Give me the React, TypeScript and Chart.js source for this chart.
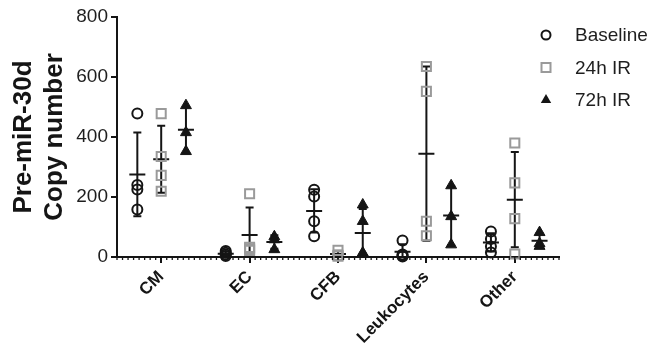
import React, { useEffect, useRef } from 'react';
import { Chart, registerables } from 'chart.js';

Chart.register(...registerables);

// ---- Data ----
const categories = ['CM', 'EC', 'CFB', 'Leukocytes', 'Other'];
const seriesNames = ['Baseline', '24h IR', '72h IR'];
const baselineValues = [
  [478, 240, 225, 158],
  [20, 14, 8, 3],
  [224, 202, 119, 69],
  [55, 8, 4, 2],
  [85, 60, 35, 15],
];
const ir24Values = [
  [478, 335, 272, 219],
  [211, 32, 27, 22],
  [22, 6, 3],
  [635, 552, 119, 71],
  [380, 247, 128, 10],
];
const ir72Values = [
  [505, 415, 352],
  [68, 58, 25],
  [174, 119, 14, 12],
  [238, 135, 41],
  [82, 45, 36],
];
const yTicks = [0, 200, 400, 600, 800];
const yTitle = ['Pre-miR-30d', 'Copy number'];

// ---- Styles ----
const FONT = '"Liberation Sans", Arial, Helvetica, sans-serif';
const INK = '#151515';
const GRAY = '#9a9a9a';
const groupOffsets = [-0.27, 0, 0.28];
const allSeries = [baselineValues, ir24Values, ir72Values];

const pointStyles = [
  { pointStyle: 'circle', radius: 5, borderWidth: 2, borderColor: INK, backgroundColor: 'rgba(0,0,0,0)' },
  { pointStyle: 'rect', radius: 6.4, borderWidth: 2, borderColor: GRAY, backgroundColor: 'rgba(0,0,0,0)' },
  { pointStyle: 'triangle', radius: 6.3, borderWidth: 1, borderColor: INK, backgroundColor: INK },
];

function mean(a: number[]) {
  return a.reduce((s, v) => s + v, 0) / a.length;
}
function sd(a: number[]) {
  const m = mean(a);
  return Math.sqrt(a.reduce((s, v) => s + (v - m) * (v - m), 0) / (a.length - 1));
}

const errorBarPlugin = {
  id: 'errorBars',
  beforeDatasetsDraw(chart: any) {
    const { ctx, scales } = chart;
    const xs = scales.x;
    const ys = scales.y;
    const yMin = ys.min;
    ctx.save();
    ctx.strokeStyle = INK;
    ctx.lineWidth = 2;
    ctx.lineCap = 'butt';
    allSeries.forEach((series, si) => {
      series.forEach((vals, ci) => {
        const m = mean(vals);
        const s = sd(vals);
        const px = xs.getPixelForValue(ci + groupOffsets[si]);
        const hiV = m + s;
        const loV = Math.max(yMin, m - s);
        const top = ys.getPixelForValue(hiV);
        const bot = ys.getPixelForValue(loV);
        const mid = ys.getPixelForValue(m);
        ctx.beginPath();
        ctx.moveTo(px, top);
        ctx.lineTo(px, bot);
        ctx.moveTo(px - 4, top);
        ctx.lineTo(px + 4, top);
        if (m - s > yMin) {
          ctx.moveTo(px - 4, bot);
          ctx.lineTo(px + 4, bot);
        }
        ctx.moveTo(px - 8, mid);
        ctx.lineTo(px + 8, mid);
        ctx.stroke();
      });
    });
    ctx.restore();
  },
};

const minorTickPlugin = {
  id: 'minorTicks',
  afterDraw(chart: any) {
    const { ctx, scales } = chart;
    const xs = scales.x;
    const ys = scales.y;
    const y0 = ys.getPixelForValue(0);
    ctx.save();
    ctx.strokeStyle = INK;
    ctx.lineWidth = 1.3;
    for (let v = xs.min; v <= xs.max + 1e-9; v += 1 / 16) {
      const px = xs.getPixelForValue(v);
      ctx.beginPath();
      ctx.moveTo(px, y0 - 1);
      ctx.lineTo(px, y0 + 3);
      ctx.stroke();
    }
    ctx.restore();
  },
};

const legendPlugin = {
  id: 'customLegend',
  afterDraw(chart: any) {
    const { ctx, chartArea } = chart;
    const mx = chartArea.right - 13;
    const tx = mx + 29;
    ctx.save();
    seriesNames.forEach((name, i) => {
      const my = chartArea.top + 18 + i * 32.5;
      const st = pointStyles[i];
      ctx.beginPath();
      if (i === 0) {
        ctx.arc(mx, my, 4.5, 0, Math.PI * 2);
        ctx.lineWidth = 2;
        ctx.strokeStyle = INK;
        ctx.stroke();
      } else if (i === 1) {
        ctx.rect(mx - 4.5, my - 4.5, 9, 9);
        ctx.lineWidth = 2;
        ctx.strokeStyle = GRAY;
        ctx.stroke();
      } else {
        const r = 6;
        ctx.moveTo(mx, my - r);
        ctx.lineTo(mx + r * 0.866, my + r * 0.5);
        ctx.lineTo(mx - r * 0.866, my + r * 0.5);
        ctx.closePath();
        ctx.fillStyle = st.backgroundColor;
        ctx.fill();
      }
      ctx.fillStyle = '#1e1e1e';
      ctx.font = `19px ${FONT}`;
      ctx.textAlign = 'left';
      ctx.textBaseline = 'middle';
      ctx.fillText(name, tx, my + 1);
    });
    ctx.restore();
  },
};

export default function App() {
  const canvasRef = useRef<HTMLCanvasElement | null>(null);

  useEffect(() => {
    if (!canvasRef.current) return;
    const datasets = allSeries.map((series, si) => ({
      label: seriesNames[si],
      data: series.flatMap((vals, ci) => vals.map((v) => ({ x: ci + groupOffsets[si], y: v }))),
      showLine: false,
      clip: false as any,
      pointStyle: pointStyles[si].pointStyle as any,
      pointRadius: pointStyles[si].radius,
      pointBorderWidth: pointStyles[si].borderWidth,
      pointBorderColor: pointStyles[si].borderColor,
      pointBackgroundColor: pointStyles[si].backgroundColor,
      pointHoverRadius: pointStyles[si].radius,
      borderColor: pointStyles[si].borderColor,
      backgroundColor: pointStyles[si].backgroundColor,
    }));

    const chart = new Chart(canvasRef.current, {
      type: 'scatter',
      data: { datasets },
      plugins: [errorBarPlugin, minorTickPlugin, legendPlugin],
      options: {
        animation: false,
        responsive: true,
        maintainAspectRatio: false,
        layout: { padding: { left: 0, right: 94, top: 17, bottom: 0 } },
        plugins: { legend: { display: false }, tooltip: { enabled: false } },
        scales: {
          x: {
            type: 'linear',
            min: -0.5,
            max: 4.5,
            afterBuildTicks: (scale: any) => {
              scale.ticks = categories.map((_, i) => ({ value: i }));
            },
            afterFit: (scale: any) => {
              scale.height = 97;
            },
            ticks: {
              autoSkip: false,
              maxRotation: 45,
              minRotation: 45,
              padding: 4,
              color: INK,
              font: { family: FONT, size: 17, weight: 'bold' },
              callback: (_v: any, i: number) => categories[i],
            },
            grid: {
              display: true,
              drawOnChartArea: false,
              drawTicks: true,
              tickLength: 6,
              color: INK,
              lineWidth: 2,
            },
            border: { display: true, color: INK, width: 2 },
          },
          y: {
            type: 'linear',
            min: yTicks[0],
            max: yTicks[yTicks.length - 1],
            afterBuildTicks: (scale: any) => {
              scale.ticks = yTicks.map((v) => ({ value: v }));
            },
            afterFit: (scale: any) => {
              scale.width = 117;
            },
            ticks: {
              padding: 3,
              color: '#1e1e1e',
              font: { family: FONT, size: 19 },
            },
            grid: {
              display: true,
              drawOnChartArea: false,
              drawTicks: true,
              tickLength: 6,
              color: INK,
              lineWidth: 2,
            },
            border: { display: true, color: INK, width: 2 },
            title: {
              display: true,
              text: yTitle,
              color: INK,
              font: { family: FONT, size: 26, weight: 'bold', lineHeight: 1.2 },
              padding: { top: 8, bottom: 0 },
            },
          },
        },
      },
    });
    return () => chart.destroy();
  }, []);

  return (
    <div style={{ position: 'fixed', left: 0, top: 0, width: 653, height: 354, background: '#fff' }}>
      <canvas ref={canvasRef} />
    </div>
  );
}
